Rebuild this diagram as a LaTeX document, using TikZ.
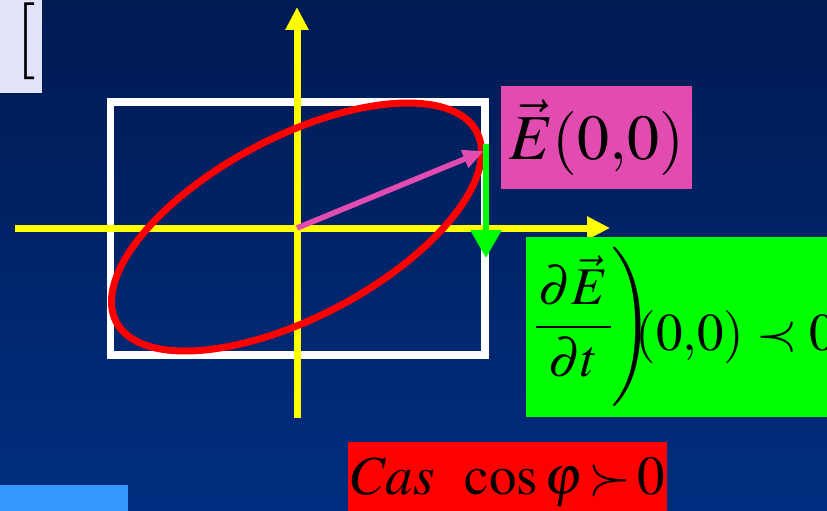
\documentclass[tikz,border=0pt]{standalone}
\usepackage{amsmath}
\usepackage{mathptmx}
\usepackage[no-math]{fontspec}
\usepackage{xcolor}
\usepackage{tikz}
\usetikzlibrary{arrows.meta}

\definecolor{bgtop}{RGB}{0,26,82}
\definecolor{bgbottom}{RGB}{0,46,128}
\definecolor{axisyellow}{RGB}{255,255,0}
\definecolor{pinkbox}{RGB}{226,76,176}
\definecolor{greenbox}{RGB}{0,255,0}
\definecolor{redbox}{RGB}{255,0,0}
\definecolor{lavender}{RGB}{226,226,250}
\definecolor{bluebox}{RGB}{51,153,255}

\begin{document}
\begin{tikzpicture}[x=1pt, y=-1pt,
    box/.style={rectangle, anchor=north west, inner sep=0pt},
    axis/.style={draw=axisyellow, line width=7pt, -{Triangle[length=23pt,width=22pt]}}]
    \useasboundingbox (0,0) rectangle (827,511);
    \shade[top color=bgtop, bottom color=bgbottom] (0,0) rectangle (827,511);

    % frame and axes
    \draw[white, line width=7.5pt] (110.5,102) rectangle (485,355);
    \coordinate (O) at (297,228);
    \coordinate (xstart) at (15,228);
    \coordinate (xend) at (610,228);
    \coordinate (ystart) at (297,418);
    \coordinate (yend) at (297,7);
    \draw[axis] (xstart) -- (xend);
    \draw[axis] (ystart) -- (yend);

    % polarisation ellipse
    \draw[redbox, line width=7pt] plot[variable=\t, domain=0:360, samples=121, smooth]
        ({296.5+185*cos(\t)}, {227-124*cos(\t-53)}) -- cycle;

    \coordinate (E0) at (484,151);
    \coordinate (dtop) at (486,144);
    \coordinate (dtip) at (486,258);
    \draw[pinkbox, line width=5.5pt, -{Triangle[length=21pt,width=18pt]}] (O) -- (E0);
    \draw[greenbox, line width=6pt, -{Triangle[length=28pt,width=30pt]}] (dtop) -- (dtip);

    % labels
    \node[box, fill=lavender, minimum width=42pt, minimum height=93pt] (bracketbox) at (0,0) {};
    \node[anchor=base, inner sep=0pt, font=\fontsize{77}{77}\selectfont] (bracket) at (26.5,61) {[};
    \node[box, fill=pinkbox, minimum width=191pt, minimum height=103pt,
        font=\fontsize{64}{70}\selectfont] (ebox) at (501,86) {$\vec{E}(0{,}0)$};
    \node[box, fill=greenbox, minimum height=180pt, inner xsep=7pt,
        font=\fontsize{53}{56}\selectfont, align=left, text width=400pt] (dtbox) at (526,237)
        {$\raisebox{10pt}{$\displaystyle\left.\rule[-66pt]{0pt}{158pt}\dfrac{\kern3pt\partial\vec{E}\kern3pt}{\partial t}\right)$}\hspace{-18pt}(0{,}0)\prec 0$};
    \node[box, fill=redbox, minimum width=319pt, minimum height=80pt,
        font=\fontsize{55}{60}\selectfont] (casbox) at (348,442) {$Cas\hspace{24pt}\cos\varphi\,{\succ}\,0$};
    \node[box, fill=bluebox, minimum width=128pt, minimum height=30pt] (blue) at (0,485) {};
\end{tikzpicture}
\end{document}
